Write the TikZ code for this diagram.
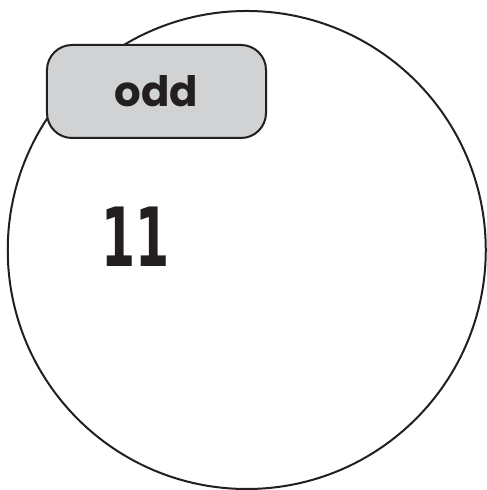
\documentclass[tikz,border=0pt]{standalone}
\usepackage{fontspec}
\newfontfamily\labelfont{Poppins}
\newfontfamily\numfont{DejaVu Sans}
\definecolor{labelgray}{HTML}{D1D2D4}
\definecolor{ink}{HTML}{231F20}
\tikzset{
  setcircle/.style={circle, draw=ink, line width=2bp, minimum size=478bp, inner sep=0pt},
  tagbox/.style={rectangle, rounded corners=25bp, draw=ink, fill=labelgray, line width=2bp,
    minimum width=219bp, minimum height=93bp, inner sep=0pt,
    font=\labelfont\bfseries\fontsize{42}{42}\selectfont, text=ink},
  numtext/.style={inner sep=0pt, font=\numfont\bfseries\fontsize{82}{82}\selectfont, text=ink}
}
\begin{document}
\begin{tikzpicture}[x=1bp,y=1bp]
\useasboundingbox (0,0) rectangle (487,490);
\begin{scope}
\clip (0,0) rectangle (487,490);
\node[setcircle] (set) at (246.75,240) {};
\end{scope}
\node[tagbox] (tag) at (156.5,398.5) {odd};
\node[numtext] (num) at (135.5,253) {\scalebox{0.6}[1]{11}};
\end{tikzpicture}
\end{document}
